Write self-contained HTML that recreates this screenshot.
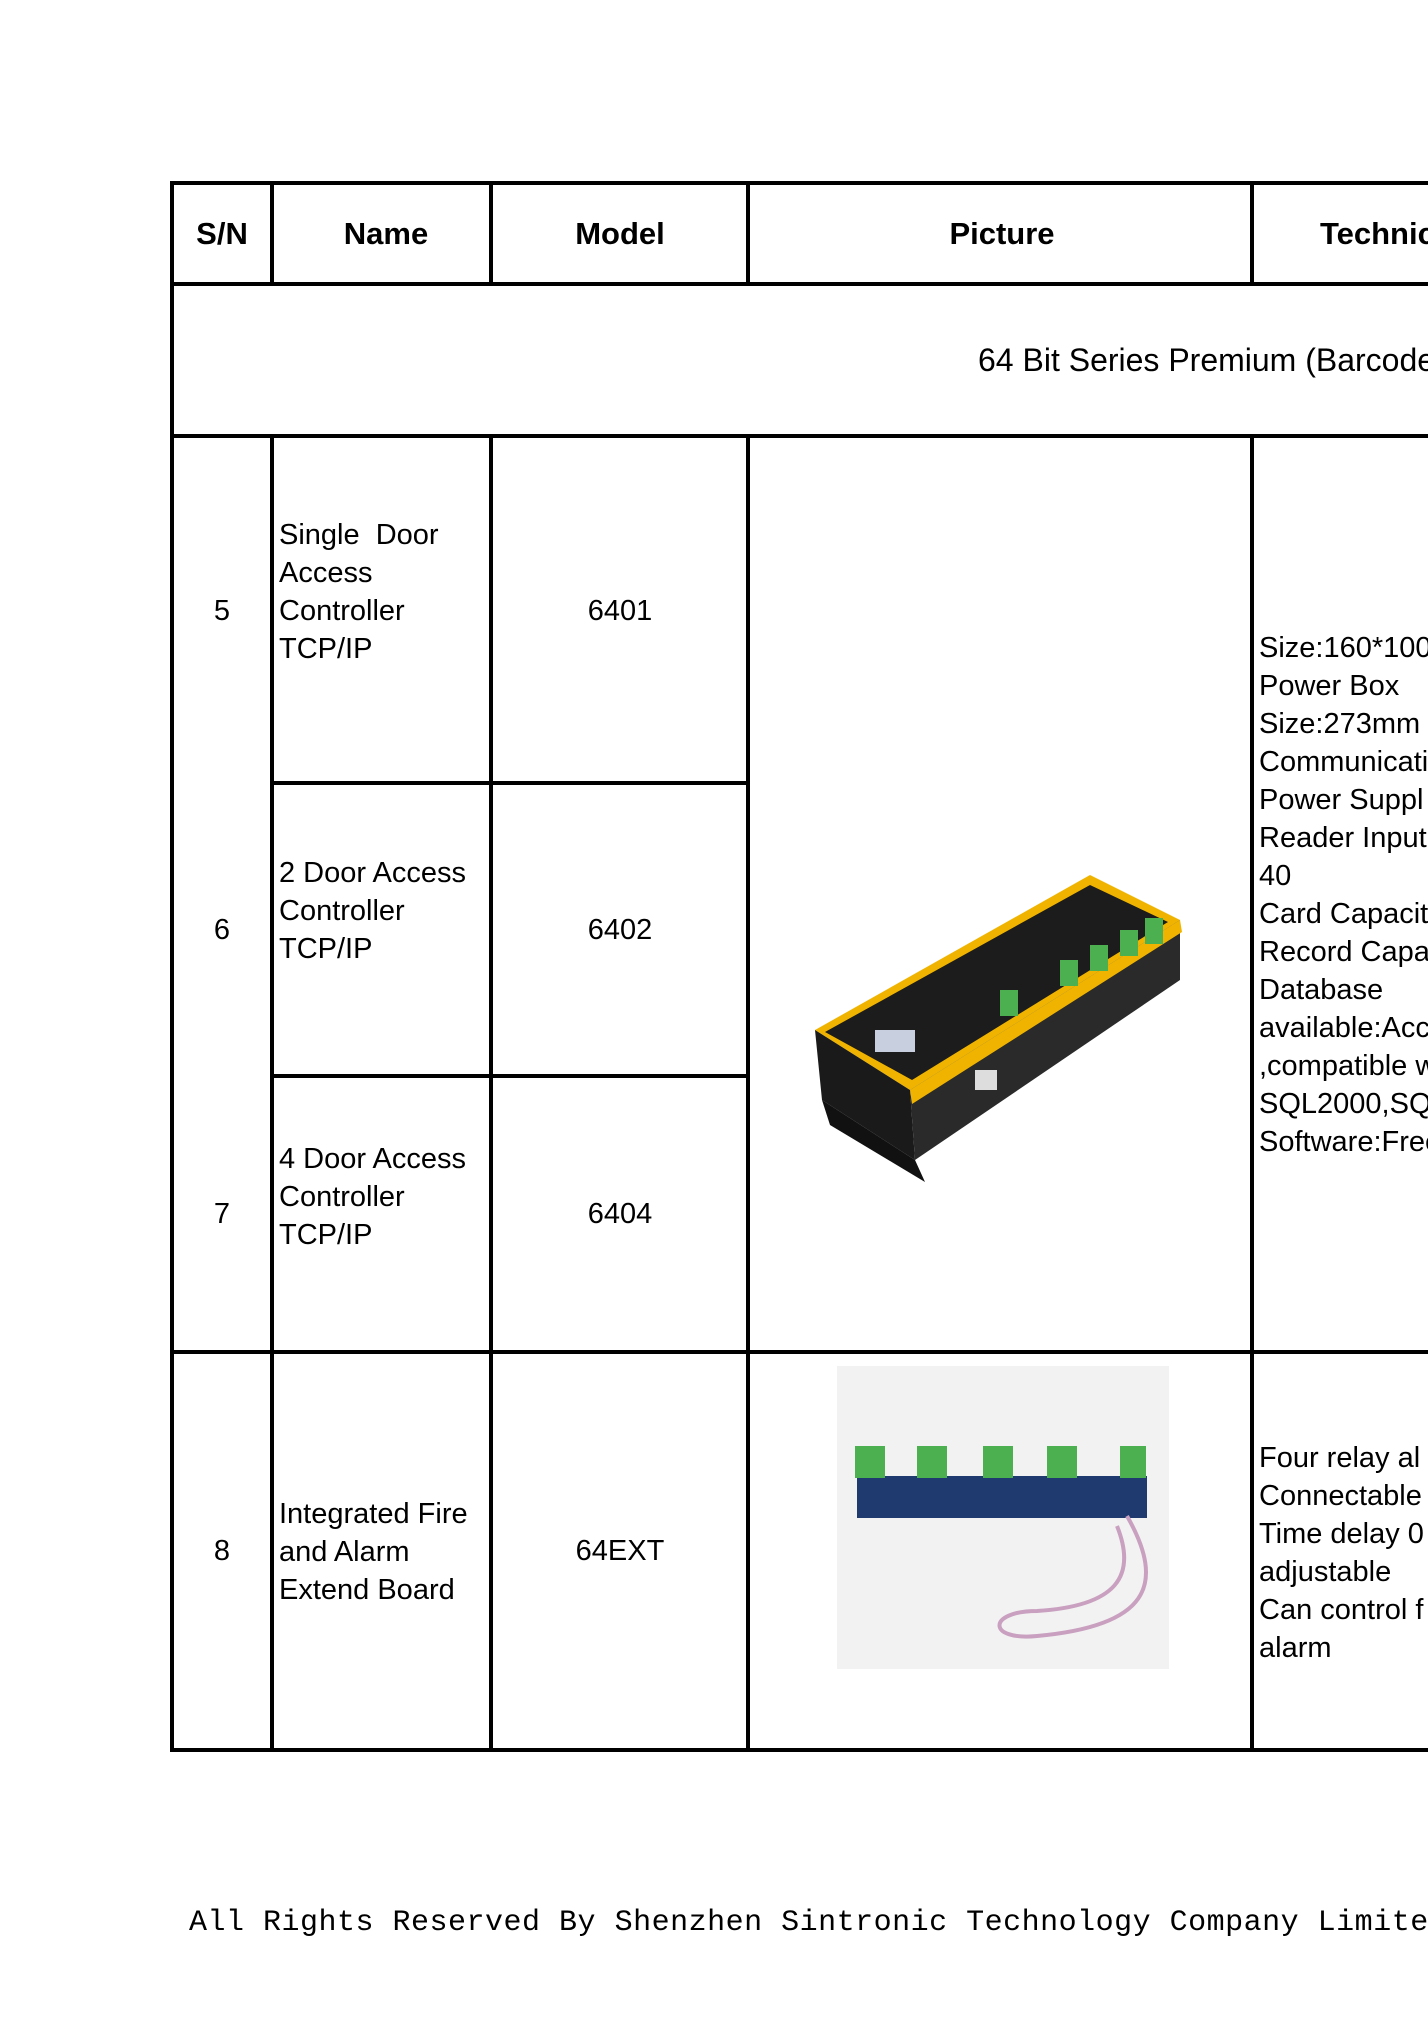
<!DOCTYPE html>
<html><head><meta charset="utf-8"><style>
html,body{margin:0;width:1428px;height:2018px;overflow:hidden}
body{background:#fff;position:relative;font-family:"Liberation Sans",sans-serif;color:#000}
.h{position:absolute;background:#000;height:4px}
.v{position:absolute;background:#000;width:4px}
.t{position:absolute;font-size:29px;line-height:38px;white-space:nowrap}
.c{transform:translateX(-50%)}
.b{font-weight:bold;font-size:31px}
</style></head><body>
<div class="h" style="left:170px;top:181px;width:1258px"></div>
<div class="h" style="left:170px;top:282px;width:1258px"></div>
<div class="h" style="left:170px;top:434px;width:1258px"></div>
<div class="h" style="left:270px;top:781px;width:478px"></div>
<div class="h" style="left:270px;top:1074px;width:478px"></div>
<div class="h" style="left:170px;top:1350px;width:1258px"></div>
<div class="h" style="left:170px;top:1748px;width:1258px"></div>
<div class="v" style="left:170px;top:181px;height:1571px"></div>
<div class="v" style="left:270px;top:181px;height:104px"></div>
<div class="v" style="left:489px;top:181px;height:104px"></div>
<div class="v" style="left:746px;top:181px;height:104px"></div>
<div class="v" style="left:1250px;top:181px;height:104px"></div>
<div class="v" style="left:270px;top:434px;height:1318px"></div>
<div class="v" style="left:489px;top:434px;height:1318px"></div>
<div class="v" style="left:746px;top:434px;height:1318px"></div>
<div class="v" style="left:1250px;top:434px;height:1318px"></div>
<div class="t b c" style="left:222px;top:215px">S/N</div>
<div class="t b c" style="left:386px;top:215px">Name</div>
<div class="t b c" style="left:620px;top:215px">Model</div>
<div class="t b c" style="left:1002px;top:215px">Picture</div>
<div style="position:absolute;left:1254px;top:200px;width:174px;height:70px;overflow:hidden"><div class="t b" style="left:66px;top:15px">Technical</div></div>
<div style="position:absolute;left:900px;top:330px;width:528px;height:60px;overflow:hidden"><div class="t" style="left:78px;top:11px;font-size:32px">64 Bit Series Premium (Barcode</div></div>
<div class="t c" style="left:222px;top:592px">5</div>
<div class="t" style="left:279px;top:516px">Single&nbsp; Door<br>Access<br>Controller<br>TCP/IP</div>
<div class="t c" style="left:620px;top:592px">6401</div>
<div class="t c" style="left:222px;top:911px">6</div>
<div class="t" style="left:279px;top:854px">2 Door Access<br>Controller<br>TCP/IP</div>
<div class="t c" style="left:620px;top:911px">6402</div>
<div class="t c" style="left:222px;top:1195px">7</div>
<div class="t" style="left:279px;top:1140px">4 Door Access<br>Controller<br>TCP/IP</div>
<div class="t c" style="left:620px;top:1195px">6404</div>
<div class="t c" style="left:222px;top:1532px">8</div>
<div class="t" style="left:279px;top:1495px">Integrated Fire<br>and Alarm<br>Extend Board</div>
<div class="t c" style="left:620px;top:1532px">64EXT</div>
<div style="position:absolute;left:1254px;top:600px;width:174px;height:1100px;overflow:hidden">
<div class="t" style="left:5px;top:29px">Size:160*100<br>Power Box<br>Size:273mm<br>Communicati<br>Power Suppl<br>Reader Input<br>40<br>Card Capacit<br>Record Capa<br>Database<br>available:Acc<br>,compatible w<br>SQL2000,SQ<br>Software:Free</div>
<div class="t" style="left:5px;top:839px">Four relay al<br>Connectable<br>Time delay 0<br>adjustable<br>Can control f<br>alarm</div>
</div>
<svg style="position:absolute;left:800px;top:860px" width="390" height="330">
<polygon points="15,170 290,15 380,60 110,230" fill="#f0b400"/>
<polygon points="25,172 290,25 368,62 112,220" fill="#1c1c1c"/>
<polygon points="15,170 110,230 115,300 22,240" fill="#1a1a1a"/>
<polygon points="110,230 380,60 380,120 115,300" fill="#2a2a2a"/>
<polygon points="110,230 380,60 382,72 112,244" fill="#f0b400"/>
<rect x="260" y="100" width="18" height="26" fill="#4caf50"/>
<rect x="290" y="85" width="18" height="26" fill="#4caf50"/>
<rect x="320" y="70" width="18" height="26" fill="#4caf50"/>
<rect x="345" y="58" width="18" height="26" fill="#4caf50"/>
<rect x="200" y="130" width="18" height="26" fill="#4caf50"/>
<rect x="75" y="170" width="40" height="22" fill="#c8d0e0"/>
<rect x="175" y="210" width="22" height="20" fill="#ddd"/>
<polygon points="22,240 115,300 125,322 30,265" fill="#111"/>
</svg>
<div style="position:absolute;left:837px;top:1366px;width:332px;height:303px;background:#f2f2f2"></div>
<svg style="position:absolute;left:837px;top:1366px" width="332" height="303">
<rect x="20" y="110" width="290" height="42" fill="#1e3a6e"/>
<rect x="18" y="80" width="30" height="32" fill="#4caf50"/>
<rect x="80" y="80" width="30" height="32" fill="#4caf50"/>
<rect x="146" y="80" width="30" height="32" fill="#4caf50"/>
<rect x="210" y="80" width="30" height="32" fill="#4caf50"/>
<rect x="283" y="80" width="26" height="32" fill="#4caf50"/>
<path d="M290,150 C330,220 310,260 200,270 C150,275 150,245 200,245 C280,240 300,210 280,160" stroke="#c9a0c0" stroke-width="4" fill="none"/>
</svg>
<div class="t" style="left:189px;top:1904px;font-family:'Liberation Mono',monospace;font-size:30px;letter-spacing:0.5px">All Rights Reserved By Shenzhen Sintronic Technology Company Limited</div>
</body></html>
